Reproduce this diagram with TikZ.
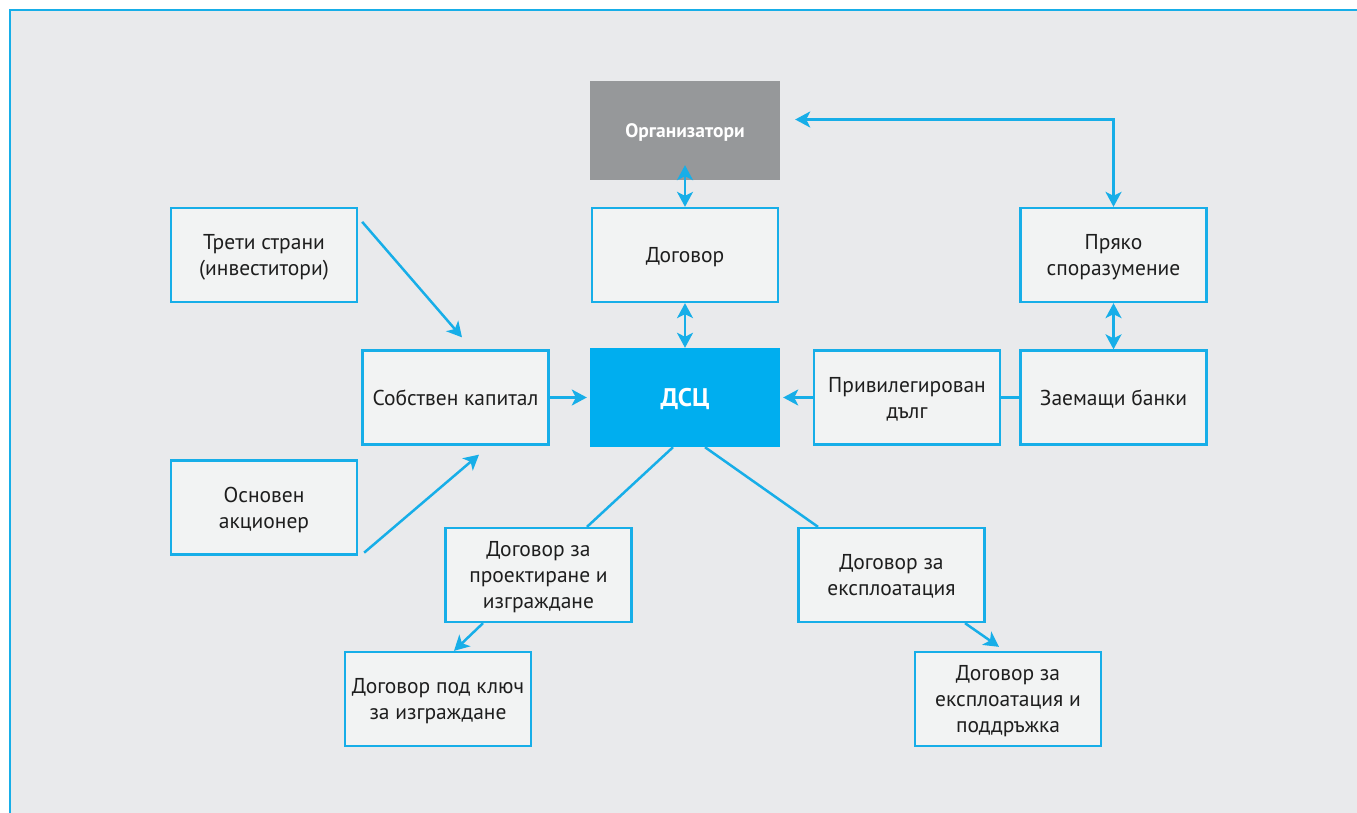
\documentclass[tikz,border=0pt]{standalone}
\usepackage{fontspec}
\setmainfont{PT Sans}
\usetikzlibrary{arrows.meta}
\definecolor{pagebg}{HTML}{E9EAEC}
\definecolor{boxfill}{HTML}{F2F3F3}
\definecolor{cyanline}{HTML}{17AEE8}
\definecolor{spvfill}{HTML}{00AEEF}
\definecolor{sponsorfill}{HTML}{96989A}
\definecolor{textdark}{HTML}{1E1E1E}
\begin{document}
\begin{tikzpicture}[x=1pt,y=-1pt,
  box/.style={draw=cyanline, line width=2.3pt, fill=boxfill, text=textdark,
    minimum width=186pt, minimum height=94pt, align=center, text depth=0pt,
    font=\fontsize{21.5}{26}\selectfont, inner sep=0pt},
  solidbox/.style={minimum width=190pt, minimum height=99pt, align=center,
    text=white, inner sep=0pt, text depth=0pt},
  link/.style={draw=cyanline, line width=2.5pt},
  arr/.style={link, -{Stealth[length=15pt,width=16pt,inset=4pt]}},
  darr/.style={link, {Stealth[length=15pt,width=16pt,inset=4pt]}-{Stealth[length=15pt,width=16pt,inset=4pt]}}
]
% page frame
\useasboundingbox (0,0) rectangle (1357,813);
\fill[white] (0,0) rectangle (1357,813);
\fill[pagebg] (10,10) rectangle (1357,813);
\draw[cyanline, line width=2pt] (10,813) -- (10,10.5) -- (1357,10.5);

% nodes
\node[solidbox, fill=sponsorfill, font=\bfseries\fontsize{19.5}{24}\selectfont] (org) at (685,130.5) {Организатори};
\node[box] (dog) at (685,255) {Договор};
\node[solidbox, fill=spvfill, font=\bfseries\fontsize{25.5}{30}\selectfont] (dsc) at (685,397.5) {ДСЦ};
\node[box] (treti) at (264,255) {Трети страни\\(инвеститори)};
\node[box] (sobst) at (455.5,397.5) {Собствен капитал};
\node[box] (osnov) at (264,507.5) {Основен\\акционер};
\node[box] (pryako) at (1113.5,255) {Пряко\\споразумение};
\node[box] (priv) at (907,397.5) {Привилегирован\\дълг};
\node[box] (zaem) at (1113.5,397.5) {Заемащи банки};
\node[box] (proekt) at (538.5,575) {Договор за\\проектиране и\\изграждане};
\node[box] (ekspl) at (891.5,575) {Договор за\\експлоатация};
\node[box] (klyuch) at (438,699) {Договор под ключ\\за изграждане};
\node[box] (poddr) at (1008,699) {Договор за\\експлоатация и\\поддръжка};

% connectors
\draw[darr] ([shift={(0,-15)}]org.south) -- (dog.north);
\draw[darr] (dog.south) -- (dsc.north);
\draw[darr] ([shift={(15,-11)}]org.east) -| (pryako.north);
\draw[darr] (pryako.south) -- (zaem.north);
\draw[arr] ([shift={(4,15)}]treti.north east) -- ([shift={(6.5,-12)}]sobst.north);
\draw[arr] ([shift={(6,-3)}]osnov.south east) -- ([shift={(23.5,9)}]sobst.south);
\draw[arr] (sobst.east) -- ([shift={(-3,0)}]dsc.west);
\draw[arr] (priv.west) -- ([shift={(3,0)}]dsc.east);
\draw[link] (zaem.west) -- (priv.east);
\draw[link] ([shift={(-12,0)}]dsc.south) -- ([shift={(48.5,0)}]proekt.north);
\draw[link] ([shift={(20,0)}]dsc.south) -- ([shift={(-73.5,0)}]ekspl.north);
\draw[arr] ([shift={(-55.5,0)}]proekt.south) -- ([shift={(16,0)}]klyuch.north);
\draw[arr] ([shift={(73.5,0)}]ekspl.south) -- ([shift={(-9,-4)}]poddr.north);
\end{tikzpicture}
\end{document}
